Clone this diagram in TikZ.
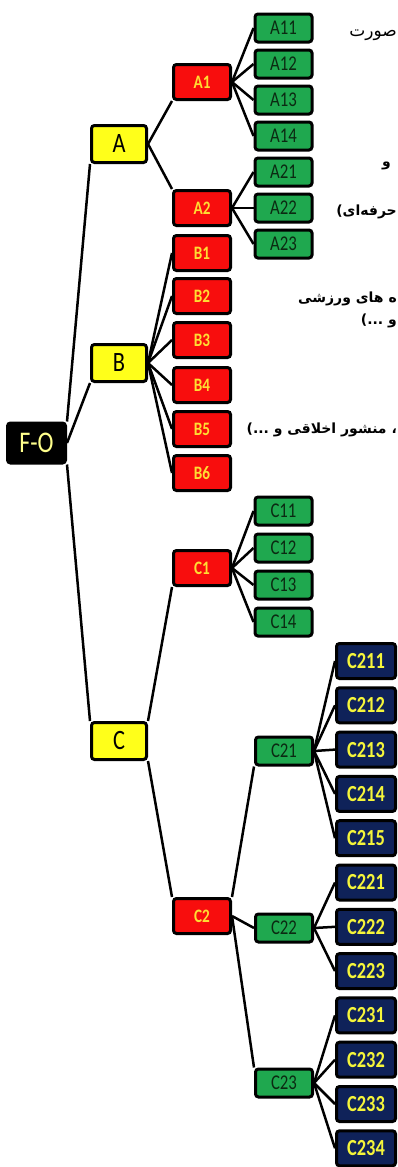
\documentclass[tikz,border=0pt]{standalone}
\usepackage{fontspec}
\setmainfont{Carlito}
\newfontfamily\boxfont{Carlito}[FakeStretch=0.8]
\newfontfamily\arabicfont[Script=Arabic]{DejaVu Sans}
\TeXXeTstate=1
\usetikzlibrary{backgrounds}
\definecolor{cyel}{HTML}{FFFF1A}
\definecolor{cred}{HTML}{F80D0D}
\definecolor{cgrn}{HTML}{1FA84F}
\definecolor{cnav}{HTML}{0F2259}
\definecolor{cgold}{HTML}{FFDD33}
\definecolor{cyt}{HTML}{F5F53A}
\definecolor{cgtxt}{HTML}{0B2A12}
\definecolor{cpale}{HTML}{FFFF8C}
\tikzset{
  basebox/.style={draw=black, line width=3pt, rounded corners=3pt, inner sep=0pt, align=center},
  fobox/.style={basebox, fill=black, text=cpale, minimum width=58pt, minimum height=40pt, font=\boxfont\fontsize{30}{32}\selectfont},
  ybox/.style={basebox, fill=cyel, text=black, minimum width=55pt, minimum height=37pt, font=\boxfont\fontsize{28}{30}\selectfont},
  rbox/.style={basebox, fill=cred, text=cgold, minimum width=57pt, minimum height=35pt, font=\boxfont\bfseries\fontsize{19}{21}\selectfont},
  gbox/.style={basebox, fill=cgrn, text=cgtxt, minimum width=57pt, minimum height=28pt, font=\boxfont\fontsize{21}{23}\selectfont},
  nbox/.style={basebox, fill=cnav, text=cyt, minimum width=59pt, minimum height=35pt, font=\boxfont\bfseries\fontsize{23}{25}\selectfont},
  conn/.style={line width=2.5pt, black},
  fatxt/.style={anchor=east, inner sep=0pt, font=\arabicfont\bfseries\fontsize{14}{16}\selectfont},
  fareg/.style={anchor=east, inner sep=0pt, font=\arabicfont\fontsize{17}{19}\selectfont}
}
\begin{document}
\begin{tikzpicture}[x=1pt,y=-1pt]
\useasboundingbox (0,0) rectangle (397,1167);
\clip (0,0) rectangle (397,1167);

% root and level 1
\node[fobox] (FO) at (36.5,443) {F-O};
\node[ybox] (A) at (119,144) {A};
\node[ybox] (B) at (119,363) {B};
\node[ybox] (C) at (119,741) {C};

% level 2
\node[rbox] (A1) at (202,82) {A1};
\node[rbox] (A2) at (202,208) {A2};
\node[rbox] (B1) at (202,253) {B1};
\node[rbox] (B2) at (202,296) {B2};
\node[rbox] (B3) at (202,340) {B3};
\node[rbox] (B4) at (202,385) {B4};
\node[rbox] (B5) at (202,429) {B5};
\node[rbox] (B6) at (202,473) {B6};
\node[rbox] (C1) at (202,568) {C1};
\node[rbox] (C2) at (202,916) {C2};

% level 3
\node[gbox] (A11) at (283.5,28) {A11};
\node[gbox] (A12) at (283.5,64) {A12};
\node[gbox] (A13) at (283.5,100) {A13};
\node[gbox] (A14) at (283.5,136) {A14};
\node[gbox] (A21) at (283.5,172) {A21};
\node[gbox] (A22) at (283.5,208) {A22};
\node[gbox] (A23) at (283.5,244) {A23};
\node[gbox] (C11) at (283.5,511) {C11};
\node[gbox] (C12) at (283.5,548) {C12};
\node[gbox] (C13) at (283.5,585) {C13};
\node[gbox] (C14) at (283.5,622) {C14};
\node[gbox] (C21) at (284,751) {C21};
\node[gbox] (C22) at (284,928) {C22};
\node[gbox] (C23) at (284,1083) {C23};

% level 4
\node[nbox] (C211) at (366,661) {C211};
\node[nbox] (C212) at (366,705.3) {C212};
\node[nbox] (C213) at (366,749.6) {C213};
\node[nbox] (C214) at (366,793.9) {C214};
\node[nbox] (C215) at (366,838.2) {C215};
\node[nbox] (C221) at (366,882.5) {C221};
\node[nbox] (C222) at (366,926.8) {C222};
\node[nbox] (C223) at (366,971.1) {C223};
\node[nbox] (C231) at (366,1015.4) {C231};
\node[nbox] (C232) at (366,1059.7) {C232};
\node[nbox] (C233) at (366,1104) {C233};
\node[nbox] (C234) at (366,1148.3) {C234};

% Persian text fragments at the right edge
\node[fareg] (t1) at (397,35) {\beginR صورت\endR};
\node[fatxt] (t2) at (391,166) {\beginR و\endR};
\node[fatxt] (t3) at (397,212) {\beginR حرفه‌ای)\endR};
\node[fatxt] (t4) at (397,299) {\beginR ه های ورزشی\endR};
\node[fatxt] (t5) at (397,321) {\beginR و ...)\endR};
\node[fatxt] (t6) at (397,430) {\beginR ، منشور اخلاقی و ...)\endR};

\begin{scope}[on background layer]
\fill[white] (0,0) rectangle (397,1167);
\draw[conn] (FO.north east) -- (A.south west);
\draw[conn] (FO.east) -- (B.south west);
\draw[conn] (FO.south east) -- (C.north west);
\draw[conn] (A.east) -- (A1.south west);
\draw[conn] (A.east) -- (A2.north west);
\foreach \i in {1,...,6} \draw[conn] (B.east) -- (B\i.west);
\draw[conn] (C.north east) -- (C1.south west);
\draw[conn] (C.south east) -- (C2.north west);
\foreach \i in {1,...,4} \draw[conn] (A1.east) -- (A1\i.west);
\foreach \i in {1,...,3} \draw[conn] (A2.east) -- (A2\i.west);
\foreach \i in {1,...,4} \draw[conn] (C1.east) -- (C1\i.west);
\draw[conn] (C2.north east) -- (C21.south west);
\draw[conn] (C2.east) -- (C22.west);
\draw[conn] (C2.east) -- (C23.north west);
\foreach \i in {1,...,5} \draw[conn] (C21.east) -- (C21\i.west);
\foreach \i in {1,...,3} \draw[conn] (C22.east) -- (C22\i.west);
\foreach \i in {1,...,4} \draw[conn] (C23.east) -- (C23\i.west);
\end{scope}
\end{tikzpicture}
\end{document}
